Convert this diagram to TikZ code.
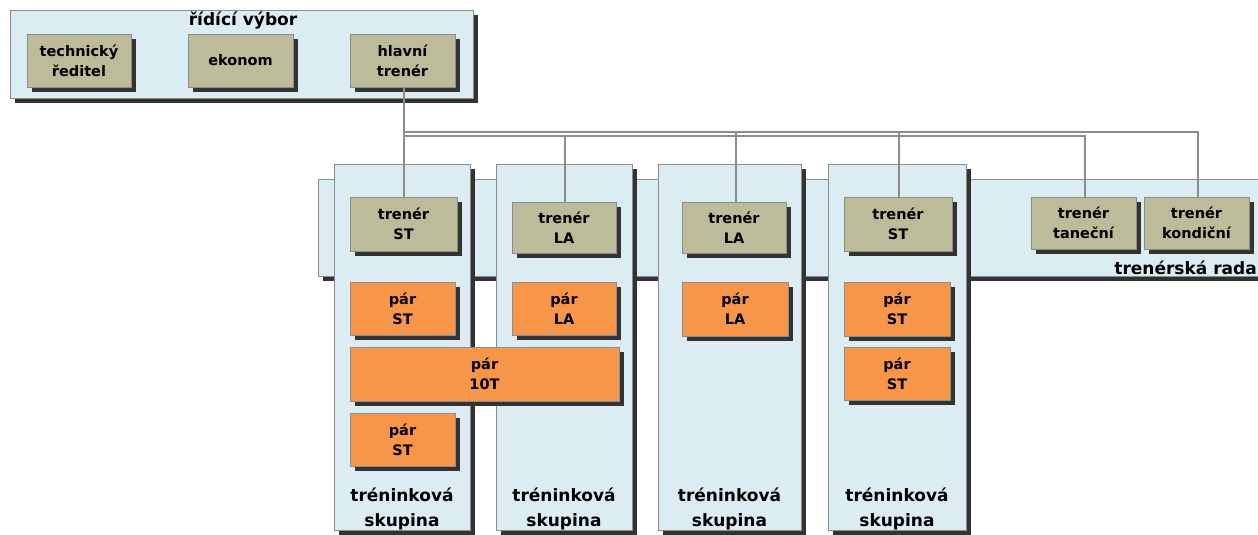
\documentclass[tikz,border=0pt]{standalone}
\usepackage{fontspec}
\setmainfont{DejaVu Sans}
\usetikzlibrary{shadows}
\definecolor{paleblue}{RGB}{219,237,243}
\definecolor{khaki}{RGB}{188,188,155}
\definecolor{pairorange}{RGB}{247,150,72}
\definecolor{edge}{RGB}{140,140,140}
\begin{document}
\begin{tikzpicture}[x=1pt,y=-1pt]
	\tikzstyle{shade}=[drop shadow={shadow xshift=5pt,shadow yshift=-5pt,fill=black!80,opacity=1}]
	\tikzstyle{group}=[draw=edge,line width=0.8pt,fill=paleblue,shade,inner sep=0pt]
	\tikzstyle{member}=[draw=edge,line width=0.8pt,fill=khaki,shade,align=center,font=\bfseries\fontsize{14.5}{20}\selectfont,inner sep=0pt]
	\tikzstyle{pair}=[member,fill=pairorange]
	\tikzstyle{caption}=[align=center,font=\bfseries\fontsize{17}{25}\selectfont,inner sep=0pt]
	\tikzstyle{link}=[draw=edge,line width=1.6pt]
	\clip (0,0) rectangle (1258,535);
	\node[group,minimum width=463,minimum height=88]	(vybor)	at (241.5,54)	{};
	\node[caption]	(vyborlabel)	at (243,21)	{řídící výbor};
	\node[member,minimum width=104,minimum height=53]	(technicky)	at (79,60.5)	{technický\\ředitel};
	\node[member,minimum width=105,minimum height=53]	(ekonom)	at (240.5,60.5)	{ekonom};
	\node[member,minimum width=105,minimum height=53]	(hlavni)	at (402.5,60.5)	{hlavní\\trenér};
	\node[group,minimum width=960,minimum height=97]	(rada)	at (798,227.5)	{};
	\node[caption,anchor=east]	(radalabel)	at (1257,268)	{trenérská rada};
	\node[group,minimum width=136,minimum height=366]	(skupinaA)	at (402,347)	{};
	\node[group,minimum width=136,minimum height=366]	(skupinaB)	at (564,347)	{};
	\node[group,minimum width=143,minimum height=366]	(skupinaC)	at (729.5,347)	{};
	\node[group,minimum width=138,minimum height=366]	(skupinaD)	at (897,347)	{};
	\node[caption]	(skupinaAlabel)	at (402,509)	{tréninková\\skupina};
	\node[caption]	(skupinaBlabel)	at (564,509)	{tréninková\\skupina};
	\node[caption]	(skupinaClabel)	at (729.5,509)	{tréninková\\skupina};
	\node[caption]	(skupinaDlabel)	at (897,509)	{tréninková\\skupina};
	\coordinate	(busA)	at (404,132);
	\coordinate	(busB)	at (404,136);
	\draw[link]	(hlavni.south -| busA) -- (busA) -- (404,197);
	\draw[link]	(busB) -| (565,202);
	\draw[link]	(busA) -| (736,202);
	\draw[link]	(busA) -| (899,197);
	\draw[link]	(busB) -| (1085,197);
	\draw[link]	(busA) -| (1198,197);
	\node[member,minimum width=107,minimum height=54]	(trenerA)	at (403.5,224)	{trenér\\ST};
	\node[member,minimum width=104,minimum height=51]	(trenerB)	at (564,227.5)	{trenér\\LA};
	\node[member,minimum width=104,minimum height=51]	(trenerC)	at (734,227.5)	{trenér\\LA};
	\node[member,minimum width=108,minimum height=54]	(trenerD)	at (898,224)	{trenér\\ST};
	\node[member,minimum width=105,minimum height=52]	(tanecni)	at (1083.5,223)	{trenér\\taneční};
	\node[member,minimum width=105,minimum height=52]	(kondicni)	at (1196.5,223)	{trenér\\kondiční};
	\node[pair,minimum width=105,minimum height=53]	(parA)	at (402.5,308.5)	{pár\\ST};
	\node[pair,minimum width=104,minimum height=53]	(parB)	at (564,308.5)	{pár\\LA};
	\node[pair,minimum width=106,minimum height=54]	(parC)	at (735,309)	{pár\\LA};
	\node[pair,minimum width=106,minimum height=54]	(parD)	at (897,309)	{pár\\ST};
	\node[pair,minimum width=269,minimum height=54]	(pardeset)	at (484.5,374)	{pár\\10T};
	\node[pair,minimum width=106,minimum height=53]	(parE)	at (897,373.5)	{pár\\ST};
	\node[pair,minimum width=105,minimum height=53]	(parF)	at (402.5,439.5)	{pár\\ST};
\end{tikzpicture}
\end{document}
